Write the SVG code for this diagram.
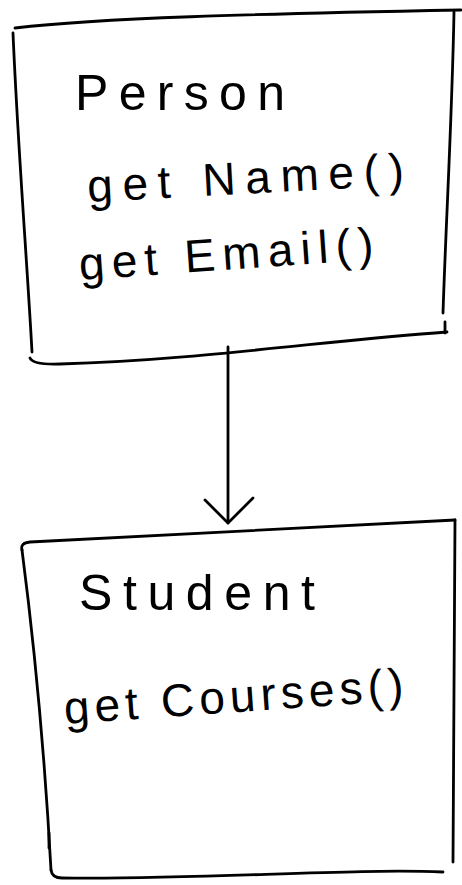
<svg xmlns="http://www.w3.org/2000/svg" width="462" height="885" viewBox="0 0 462 885">
<style>
.s{fill:none;stroke:#000;stroke-width:2.8;stroke-linecap:round;stroke-linejoin:round}
.t{font-family:"Liberation Sans","DejaVu Sans",sans-serif;fill:#000;font-weight:normal}
</style>
<rect width="462" height="885" fill="#fff"/>
<g id="person">
<path class="s" d="M15,28 C100,18 250,14 461,10"/>
<path class="s" d="M13,33 C18,150 27,260 32,352"/>
<path class="s" d="M454,12 C452,120 446,220 443,313"/>
<path class="s" d="M445,322 L445,333"/>
<path class="s" d="M30,358 Q33,365 60,364 C200,360 330,340 447,332"/>
<text class="t" x="75" y="110" font-size="50" textLength="210" lengthAdjust="spacing">Person</text>
<text class="t" x="88" y="202" font-size="46" textLength="317" lengthAdjust="spacing" transform="rotate(-3 88 202)">get Name()</text>
<text class="t" x="80" y="280" font-size="46" textLength="295" lengthAdjust="spacing" transform="rotate(-4 80 280)">get Email()</text>
</g>
<g id="student">
<path class="s" d="M22,550 Q20,543 30,542 C150,535 300,528 455,520"/>
<path class="s" d="M22,550 C35,650 45,760 51,870"/>
<path class="s" d="M49,833 L49,848"/>
<path class="s" d="M51,870 Q52,878 62,878 C200,880 350,868 443,872"/>
<path class="s" d="M455,520 C455,650 453,760 453,862"/>
<text class="t" x="79" y="610" font-size="50" textLength="236" lengthAdjust="spacing">Student</text>
<text class="t" x="65" y="724" font-size="46" textLength="340" lengthAdjust="spacing" transform="rotate(-4 65 724)">get Courses()</text>
</g>
<g id="connectors">
<path class="s" d="M228,347 L228,523"/>
<path class="s" d="M205,500 L228,523 L253,498"/>
</g>
</svg>
